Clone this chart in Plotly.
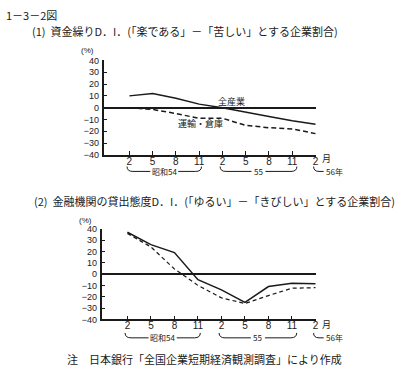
import plotly.graph_objects as go

W, H = 402, 373
FONT = "Noto Sans CJK JP"
NUMFONT = "Liberation Sans"
INK = "#1a1a1a"

# ---- data ----
months = ["2", "5", "8", "11", "2", "5", "8", "11", "2"]
yticks = [40, 30, 20, 10, 0, -10, -20, -30, -40]
all_industry = [10, 12, 8, 3, 0, -4, -7.5, -11, -14]
transport = [0, -1.5, -5, -9, -9, -15, -17, -18, -22]
lend_all = [37, 26, 19, -5, -14, -25, -11, -8, -8.5]
lend_small = [36, 24, 4.5, -10, -21, -26, -19, -12.5, -12]

def px(x):
    return x / W

def py(y):
    return 1 - y / H

xs = list(range(len(months)))

X1_DOM, X1_RNG = [px(105), px(318)], [-1.07, 8.04]
X2_DOM, X2_RNG = [px(103), px(318)], [-1.06, 8.04]

def xpaper(dom, rng, v):
    return dom[0] + (v - rng[0]) / (rng[1] - rng[0]) * (dom[1] - dom[0])

fig = go.Figure()
fig.add_trace(go.Scatter(x=xs, y=all_industry, mode="lines", line=dict(color=INK, width=1.5),
                         xaxis="x", yaxis="y", showlegend=False))
fig.add_trace(go.Scatter(x=xs, y=transport, mode="lines", line=dict(color=INK, width=1.5, dash="5px,3px"),
                         xaxis="x", yaxis="y", showlegend=False))
fig.add_trace(go.Scatter(x=xs, y=lend_all, mode="lines", line=dict(color=INK, width=1.5),
                         xaxis="x2", yaxis="y2", showlegend=False))
fig.add_trace(go.Scatter(x=xs, y=lend_small, mode="lines", line=dict(color=INK, width=1.2, dash="4px,3px"),
                         xaxis="x2", yaxis="y2", showlegend=False))

xcommon = dict(tickmode="array", tickvals=xs, ticktext=months, showgrid=False, zeroline=False,
               showline=True, linecolor=INK, linewidth=1.5, ticks="inside", ticklen=4,
               tickcolor=INK, ticklabelstandoff=-4,
               tickfont=dict(family=NUMFONT, size=10, color=INK), fixedrange=True)
ycommon = dict(tickmode="array", tickvals=yticks, range=[-40, 40], showgrid=False, zeroline=True,
               zerolinecolor=INK, zerolinewidth=1.5, showline=True, linecolor=INK, linewidth=1.5,
               ticks="inside", ticklen=3, tickcolor=INK, ticklabelstandoff=2,
               tickfont=dict(family=NUMFONT, size=9, color=INK), fixedrange=True)

fig.update_layout(
    width=W, height=H, margin=dict(l=0, r=0, t=0, b=0),
    paper_bgcolor="white", plot_bgcolor="white",
    xaxis=dict(domain=X1_DOM, range=X1_RNG, anchor="y", **xcommon),
    yaxis=dict(domain=[py(154), py(57)], anchor="x", **ycommon),
    xaxis2=dict(domain=X2_DOM, range=X2_RNG, anchor="y2", **xcommon),
    yaxis2=dict(domain=[py(323), py(230)], anchor="x2", **ycommon),
)

def note(x, y, text, size=11, xanchor="left", family=FONT):
    fig.add_annotation(x=px(x), y=py(y), xref="paper", yref="paper", text=text, showarrow=False,
                       xanchor=xanchor, yanchor="middle", font=dict(family=family, size=size, color=INK))

note(4, 10, "1－3－2図", 11)
note(30, 27, "(1)  資金繰りD．I．(「楽である」－「苦しい」とする企業割合)", 11)
note(32, 201, "(2)  金融機関の貸出態度D．I．(「ゆるい」－「きびしい」とする企業割合)", 11)
note(65, 364, "注　日本銀行「全国企業短期経済観測調査」により作成", 11)
note(88, 47, "(%)", 8, "center", NUMFONT)
note(86, 221, "(%)", 8, "center", NUMFONT)
note(233, 99, "全産業", 9, "center")
note(202, 122, "運輸・倉庫", 9, "center")

# 月 suffix and year brackets (paper coordinates)
for dom, rng, ylab, ybr in ((X1_DOM, X1_RNG, 158, 171), (X2_DOM, X2_RNG, 328, 342)):
    X = lambda v: xpaper(dom, rng, v)
    fig.add_annotation(x=X(8.2), y=py(ylab), xref="paper", yref="paper", text="月", showarrow=False,
                       xanchor="left", yanchor="middle", font=dict(family=FONT, size=9, color=INK))
    top = py(ybr - 5)
    bot = py(ybr)
    for (a, b, lab) in ((-0.1, 3.1, "昭和54"), (3.9, 7.2, "55")):
        mid = (a + b) / 2
        gap = 0.6 if len(lab) > 2 else 0.3
        path = (f"M {X(a)},{top} Q {X(a)},{bot} {X(a+0.25)},{bot} L {X(mid-gap)},{bot} "
                f"M {X(mid+gap)},{bot} L {X(b-0.25)},{bot} Q {X(b)},{bot} {X(b)},{top}")
        fig.add_shape(type="path", path=path, xref="paper", yref="paper", line=dict(color=INK, width=1))
        fig.add_annotation(x=X(mid), y=bot, xref="paper", yref="paper", text=lab, showarrow=False,
                           xanchor="center", yanchor="middle", font=dict(family=FONT, size=8, color=INK))
    path = f"M {X(7.92)},{top} Q {X(7.92)},{bot} {X(8.15)},{bot} L {X(8.35)},{bot}"
    fig.add_shape(type="path", path=path, xref="paper", yref="paper", line=dict(color=INK, width=1))
    fig.add_annotation(x=X(8.37), y=bot, xref="paper", yref="paper", text="56年", showarrow=False,
                       xanchor="left", yanchor="middle", font=dict(family=FONT, size=8, color=INK))

fig.write_html("out.html", config={"displayModeBar": False},
               post_script="document.body.style.margin='0';document.body.style.overflow='hidden';")
